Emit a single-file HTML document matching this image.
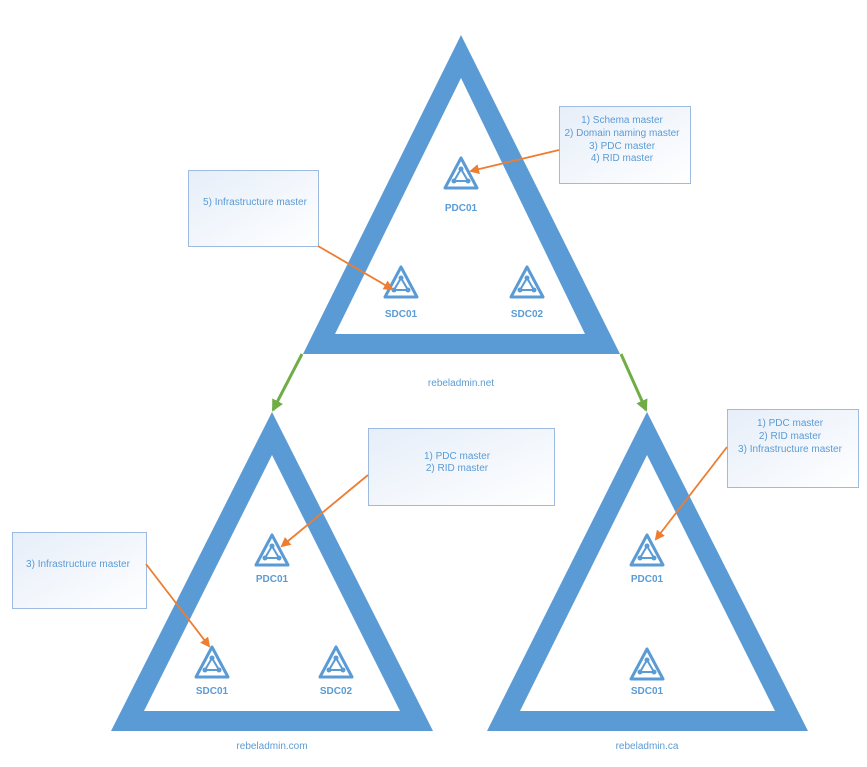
<!DOCTYPE html>
<html><head><meta charset="utf-8"><style>
html,body{margin:0;padding:0;background:#fff;width:867px;height:767px;overflow:hidden}
svg text{font-family:"Liberation Sans",sans-serif;fill:#5b9bd5}
</style></head><body>
<svg width="867" height="767" viewBox="0 0 867 767" xmlns="http://www.w3.org/2000/svg">
<defs>
<linearGradient id="bg" x1="0" y1="0" x2="1" y2="1"><stop offset="0" stop-color="#e6eef9"/><stop offset="1" stop-color="#ffffff"/></linearGradient>
<marker id="ao" markerWidth="10" markerHeight="10" refX="8" refY="5" orient="auto" markerUnits="userSpaceOnUse"><path d="M0,0 L10,5 L0,10 z" fill="#ed7d31"/></marker>
<marker id="ag" markerWidth="12" markerHeight="12" refX="10" refY="6" orient="auto" markerUnits="userSpaceOnUse"><path d="M0,0 L12,6 L0,12 z" fill="#70ad47"/></marker>
<g id="ic">
<path d="M0,-16 L16,14 L-16,14 z" fill="none" stroke="#5b9bd5" stroke-width="3" stroke-linejoin="round"/>
<path d="M0,-5 L7,7 L-7,7 z" fill="none" stroke="#5b9bd5" stroke-width="2"/>
<circle cx="0" cy="-5" r="2.5" fill="#5b9bd5"/><circle cx="7" cy="7" r="2.5" fill="#5b9bd5"/><circle cx="-7" cy="7" r="2.5" fill="#5b9bd5"/>
</g>
</defs>
<path fill-rule="evenodd" fill="#5b9bd5" d="M461,35 L620,354 L303,354 Z M461,78 L585,334 L335,334 Z"/>
<path fill-rule="evenodd" fill="#5b9bd5" d="M272,412 L433,731 L111,731 Z M272,455 L400,711 L144,711 Z"/>
<path fill-rule="evenodd" fill="#5b9bd5" d="M647,412 L808,731 L487,731 Z M647,455 L775,711 L520,711 Z"/>
<line x1="302" y1="354" x2="273" y2="410" stroke="#70ad47" stroke-width="3" marker-end="url(#ag)"/>
<line x1="621" y1="354" x2="646" y2="410" stroke="#70ad47" stroke-width="3" marker-end="url(#ag)"/>
<use href="#ic" x="461" y="174"/><use href="#ic" x="401" y="283"/><use href="#ic" x="527" y="283"/>
<use href="#ic" x="272" y="551"/><use href="#ic" x="212" y="663"/><use href="#ic" x="336" y="663"/>
<use href="#ic" x="647" y="551"/><use href="#ic" x="647" y="665"/>
<g font-size="10" font-weight="bold" text-anchor="middle">
<text x="461" y="211">PDC01</text><text x="401" y="317">SDC01</text><text x="527" y="317">SDC02</text>
<text x="272" y="582">PDC01</text><text x="212" y="694">SDC01</text><text x="336" y="694">SDC02</text>
<text x="647" y="582">PDC01</text><text x="647" y="694">SDC01</text>
</g>
<g font-size="10" text-anchor="middle">
<text x="461" y="386">rebeladmin.net</text><text x="272" y="749">rebeladmin.com</text><text x="647" y="749">rebeladmin.ca</text>
</g>
<g fill="url(#bg)" stroke="#9dbbe0" stroke-width="1">
<rect x="559.5" y="106.5" width="131" height="77"/>
<rect x="188.5" y="170.5" width="130" height="76"/>
<rect x="368.5" y="428.5" width="186" height="77"/>
<rect x="12.5" y="532.5" width="134" height="76"/>
<rect x="727.5" y="409.5" width="131" height="78"/>
</g>
<g font-size="10" text-anchor="middle">
<text x="622" y="123">1) Schema master</text><text x="622" y="136">2) Domain naming master</text><text x="622" y="149">3) PDC master</text><text x="622" y="161">4) RID master</text>
<text x="255" y="205">5) Infrastructure master</text>
<text x="457" y="459">1) PDC  master</text><text x="457" y="471">2) RID  master</text>
<text x="78" y="567">3) Infrastructure  master</text>
<text x="790" y="426">1) PDC  master</text><text x="790" y="439">2) RID  master</text><text x="790" y="452">3) Infrastructure  master</text>
</g>
<g stroke="#ed7d31" stroke-width="1.8" fill="none">
<line x1="559" y1="150" x2="471" y2="171" marker-end="url(#ao)"/>
<line x1="318" y1="246" x2="392" y2="289" marker-end="url(#ao)"/>
<line x1="368" y1="475" x2="282" y2="546" marker-end="url(#ao)"/>
<line x1="146" y1="564" x2="209" y2="646" marker-end="url(#ao)"/>
<line x1="727" y1="447" x2="656" y2="539" marker-end="url(#ao)"/>
</g>
</svg>
</body></html>
